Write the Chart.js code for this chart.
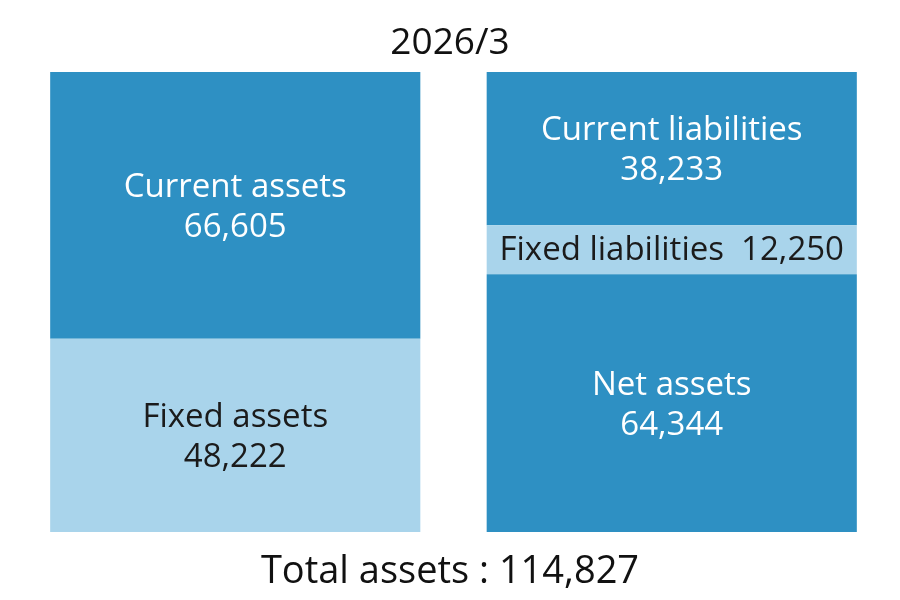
<!DOCTYPE html>
<html>
<head>
<meta charset="utf-8">
<script src="https://cdn.jsdelivr.net/npm/chart.js@4.4.1/dist/chart.umd.min.js"></script>
<style>
  html, body { margin: 0; background: #fff; }
  #wrap { width: 900px; height: 600px; position: relative; }
</style>
</head>
<body>
<div id="wrap"><canvas id="bs"></canvas></div>
<script>
// balance sheet, 2026/3
const columns = ['Assets', 'Liabilities and net assets'];
const segmentNames = ['Fixed assets', 'Current assets', 'Net assets', 'Fixed liabilities', 'Current liabilities'];
const segmentValues = [48222, 66605, 64344, 12250, 38233];
const segmentColumn = [0, 0, 1, 1, 1];
const segmentShade = ['light', 'dark', 'dark', 'light', 'dark'];
const totalAssets = 114827;
const periodLabel = '2026/3';
const totalLabel = 'Total assets : ' + totalAssets.toLocaleString('en-US');

const palette = {
  dark: '#2E90C3',
  light: '#A9D4EB',
  darkText: '#ffffff',
  lightText: '#1b1b1b'
};
const FONT = "'Open Sans', 'Noto Sans', sans-serif";

const datasets = segmentNames.map((name, i) => ({
  label: name,
  data: columns.map((c, j) => (j === segmentColumn[i] ? segmentValues[i] : null)),
  backgroundColor: palette[segmentShade[i]],
  borderWidth: 0,
  stack: 'bs',
  barPercentage: 0.848,
  categoryPercentage: 1
}));

const segmentText = {
  id: 'segmentText',
  afterDatasetsDraw(chart) {
    const ctx = chart.ctx;
    ctx.save();
    ctx.textAlign = 'center';
    ctx.textBaseline = 'middle';
    ctx.font = '33px ' + FONT;
    chart.data.datasets.forEach((ds, i) => {
      const el = chart.getDatasetMeta(i).data[segmentColumn[i]];
      if (!el) return;
      const cy = (el.y + el.base) / 2;
      const h = Math.abs(el.base - el.y);
      const num = segmentValues[i].toLocaleString('en-US');
      ctx.fillStyle = segmentShade[i] === 'dark' ? palette.darkText : palette.lightText;
      if (h < 70) {
        ctx.fillText(segmentNames[i] + '  ' + num, el.x, cy + 1);
      } else {
        ctx.fillText(segmentNames[i], el.x, cy - 18);
        ctx.fillText(num, el.x, cy + 22);
      }
    });
    ctx.restore();
  }
};

const frameText = {
  id: 'frameText',
  afterDraw(chart) {
    const ctx = chart.ctx;
    const mid = chart.width / 2;
    ctx.save();
    ctx.textAlign = 'center';
    ctx.textBaseline = 'middle';
    ctx.fillStyle = '#111';
    ctx.font = '37px ' + FONT;
    ctx.fillText(periodLabel, mid, chart.chartArea.top - 29);
    ctx.font = '38px ' + FONT;
    ctx.fillText(totalLabel, mid, chart.chartArea.bottom + 40);
    ctx.restore();
  }
};

new Chart(document.getElementById('bs'), {
  type: 'bar',
  data: { labels: columns, datasets },
  options: {
    responsive: true,
    maintainAspectRatio: false,
    animation: false,
    layout: { padding: { top: 72, bottom: 68, left: 17, right: 10 } },
    plugins: {
      legend: { display: false },
      tooltip: { enabled: false }
    },
    scales: {
      x: { display: false, stacked: true },
      y: { display: false, stacked: true, min: 0, max: totalAssets }
    }
  },
  plugins: [segmentText, frameText]
});
</script>
</body>
</html>
